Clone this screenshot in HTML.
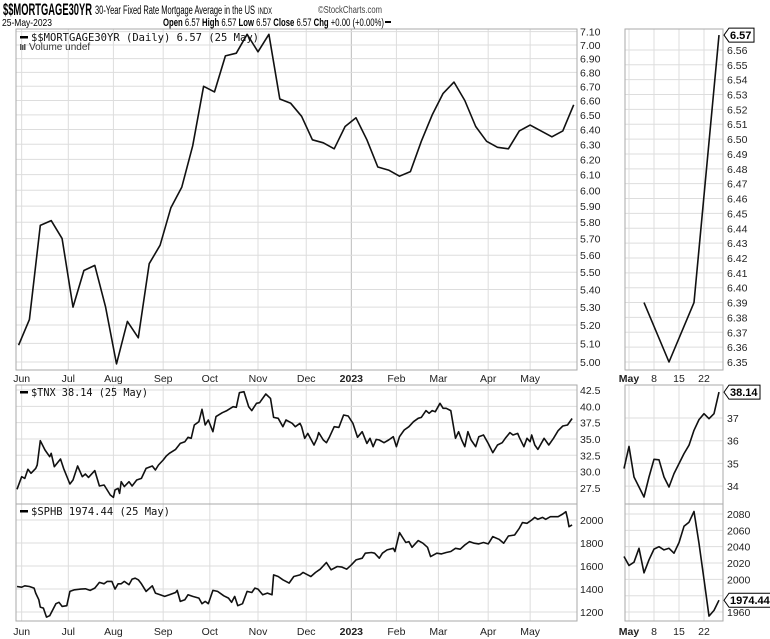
<!DOCTYPE html>
<html><head><meta charset="utf-8"><style>
html,body{margin:0;padding:0;background:#fff;}
svg{display:block;font-family:"Liberation Sans",sans-serif;}
.ax{font-size:10.5px;fill:#222;}
.lg{font-family:"DejaVu Sans Mono","Liberation Mono",monospace;font-size:11px;fill:#111;}
</style></head><body>
<svg id="c" width="770" height="639" viewBox="0 0 770 639">
<text x="3" y="15" font-size="17" font-weight="bold" textLength="89" lengthAdjust="spacingAndGlyphs">$$MORTGAGE30YR</text>
<text x="95" y="14" font-size="11.5" textLength="160" lengthAdjust="spacingAndGlyphs">30-Year Fixed Rate Mortgage Average in the US</text>
<text x="258" y="14" font-size="9" textLength="14" lengthAdjust="spacingAndGlyphs">INDX</text>
<text x="318" y="13" font-size="10.5" fill="#444" textLength="64" lengthAdjust="spacingAndGlyphs">©StockCharts.com</text>
<text x="2" y="26" font-size="10.5" textLength="50" lengthAdjust="spacingAndGlyphs">25-May-2023</text>
<text x="163" y="26" font-size="11" textLength="221" lengthAdjust="spacingAndGlyphs"><tspan font-weight="bold">Open</tspan> 6.57 <tspan font-weight="bold">High</tspan> 6.57 <tspan font-weight="bold">Low</tspan> 6.57 <tspan font-weight="bold">Close</tspan> 6.57 <tspan font-weight="bold">Chg</tspan> +0.00 (+0.00%)</text>
<rect x="385" y="21" width="6" height="2" fill="#000"/>
<g id="g"></g>
</svg>
<script>
// ===== data =====
const monthLabels=["Jun","Jul","Aug","Sep","Oct","Nov","Dec","2023","Feb","Mar","Apr","May"];
const monthDays=[3,33,62,94,124,155,186,215,244,271,303,330];
const mortWeekly=[5.09,5.23,5.78,5.81,5.70,5.30,5.51,5.54,5.30,4.99,5.22,5.13,5.55,5.66,5.89,6.02,6.29,6.70,6.66,6.92,6.94,7.08,6.95,7.08,6.61,6.58,6.49,6.33,6.31,6.27,6.42,6.48,6.33,6.15,6.13,6.09,6.12,6.32,6.50,6.65,6.73,6.60,6.42,6.32,6.28,6.27,6.39,6.43,6.39,6.35,6.39,6.57];
const mortTicks=[7.10,7.00,6.90,6.80,6.70,6.60,6.50,6.40,6.30,6.20,6.10,6.00,5.90,5.80,5.70,5.60,5.50,5.40,5.30,5.20,5.10,5.00];
const tnxDays=[0,3,5,7,9,12,13,15,18,21,22,24,28,30,34,36,39,42,44,46,50,53,56,60,62,63,65,66,67,69,72,74,77,80,83,87,89,91,94,96,98,102,105,108,110,112,114,117,119,121,123,126,128,132,135,139,141,143,146,149,151,154,156,160,163,165,168,171,173,177,179,182,183,185,187,191,193,194,197,199,201,204,207,210,213,216,219,222,225,227,229,231,233,236,239,242,244,246,249,252,255,258,260,263,265,267,269,272,274,276,279,282,284,286,288,290,292,295,297,300,303,306,309,312,314,317,319,322,323,326,328,330,331,333,335,339,342,345,348,351,354,357];
const tnxVals=[27.29,29.23,28.97,30.35,29.74,30.50,31.01,34.74,33.31,32.29,32.80,30.76,31.93,30.50,28.10,28.72,30.86,29.23,29.64,29.12,30.15,27.80,27.95,26.42,26.06,27.18,27.44,26.67,28.46,27.70,28.46,27.80,28.72,28.97,30.50,30.86,30.25,31.01,31.78,32.39,32.80,33.41,34.33,34.59,35.25,35.10,37.14,37.65,39.54,37.14,37.91,36.12,38.42,39.03,39.34,39.95,39.85,42.09,42.24,39.95,39.34,40.46,40.56,41.89,41.22,38.31,38.16,36.88,37.91,37.40,36.88,37.40,36.88,35.10,35.86,34.08,35.10,35.97,34.84,34.43,35.35,36.88,36.78,38.67,38.52,37.40,35.25,36.12,34.33,35.10,33.82,34.94,34.84,34.43,34.84,35.35,33.82,35.35,36.37,36.88,37.65,38.16,38.31,39.34,38.93,39.34,39.18,40.46,39.69,39.69,39.34,35.10,36.12,34.84,33.82,36.12,34.84,33.82,35.35,35.61,34.33,32.90,34.08,34.43,35.10,35.97,35.61,35.86,35.25,33.82,35.10,34.59,35.61,34.08,33.41,35.10,34.08,35.10,36.27,36.99,37.14,38.14];
const tnxTicks=[42.5,40.0,37.5,35.0,32.5,30.0,27.5];
const sphbDays=[0,3,5,8,11,12,14,15,17,19,21,23,25,27,29,32,34,37,41,44,47,50,53,56,58,61,63,65,67,69,72,74,76,78,80,83,87,89,92,95,98,102,103,105,108,110,113,117,119,121,123,126,129,133,136,138,140,142,145,148,151,153,155,158,161,164,165,168,171,175,178,182,184,187,189,192,195,199,202,206,209,212,215,218,222,224,228,230,233,235,238,242,243,246,250,252,254,258,261,264,266,270,273,276,279,282,285,288,291,294,297,300,303,306,310,313,316,320,323,325,328,331,333,335,338,340,343,348,351,353,354,355,357];
const sphbVals=[1422,1416,1428,1422,1408,1364,1307,1243,1234,1156,1168,1220,1272,1284,1249,1255,1379,1393,1399,1402,1388,1408,1457,1445,1466,1466,1399,1445,1445,1466,1437,1486,1494,1480,1445,1379,1428,1364,1350,1336,1350,1370,1388,1292,1307,1350,1336,1321,1272,1292,1272,1388,1379,1341,1321,1284,1336,1255,1272,1379,1370,1408,1399,1350,1364,1350,1523,1509,1480,1451,1509,1523,1544,1523,1509,1544,1572,1630,1567,1596,1590,1572,1610,1653,1668,1711,1717,1711,1668,1711,1740,1754,1726,1890,1804,1812,1763,1821,1798,1763,1682,1711,1705,1717,1726,1754,1746,1783,1812,1798,1792,1804,1792,1856,1832,1798,1861,1870,1928,1977,1971,2000,2023,2006,2023,2006,2029,2029,2052,2072,2014,1942,1957,1974.44];
const sphbTicks=[2000,1800,1600,1400,1200];
const miniLabels=["May","8","15","22"];
const miniTickDays=[0,5,10,15];
const miniMortDays=[3,8,13,18];
const miniMortVals=[6.39,6.35,6.39,6.57];
const miniMortTicks=[6.56,6.55,6.54,6.53,6.52,6.51,6.50,6.49,6.48,6.47,6.46,6.45,6.44,6.43,6.42,6.41,6.40,6.39,6.38,6.37,6.36,6.35];
const miniTnxDays=[-1,0,1,2,3,4,5,6,7,8,9,10,11,12,13,14,15,16,17,18];
const miniTnxVals=[34.77,35.75,34.40,33.96,33.52,34.40,35.18,35.16,34.40,33.96,34.55,34.99,35.43,35.80,36.46,36.93,37.19,36.97,37.19,38.14];
const miniTnxTicks=[37,36,35,34];
const miniSphbVals=[2028,2017,2021,2038,2008,2024,2037,2040,2036,2038,2032,2045,2065,2070,2083,2044,2000,1955,1962,1974.44];
const miniSphbTicks=[2080,2060,2040,2020,2000,1980,1960];

// ===== axes =====
const NS="http://www.w3.org/2000/svg";
const G=document.getElementById('g');
function mk(t,a,p){const e=document.createElementNS(NS,t);for(const k in a)e.setAttribute(k,a[k]);(p||G).appendChild(e);return e;}
const xMain=d=>17+d*1.555;
const xMini=d=>629+d*5;
const yMort=v=>362-942*Math.log(v/5);
const yTnx=v=>390+(42.5-v)*6.53;
const ySphb=v=>520+(2000-v)*0.115;
const yMiniMort=v=>362+(6.35-v)*1486;
const yMiniTnx=v=>418+(37-v)*22.7;
const yMiniSphb=v=>514+(2080-v)*0.817;

function panel(x0,x1,y0,y1,name){
  const r=mk('rect',{x:x0,y:y0,width:x1-x0,height:y1-y0,fill:'none',stroke:'#aaa','stroke-width':1});
  
  
}
function hgrid(x0,x1,ticks,yf,lx,fmt,name,skip){
  ticks.forEach(t=>{const y=yf(t);
    const l=mk('line',{x1:x0,x2:x1,y1:y,y2:y,stroke:'#ddd','stroke-width':1});
    
    
    if(skip&&skip(t))return;
    const tx=mk('text',{x:lx,y:y+4,class:'ax'});tx.textContent=fmt(t);
    
    
  });
}
function vgrid(days,xf,y0,y1,name){
  days.forEach((d,i)=>{const x=xf(d);
    const l=mk('line',{x1:x,x2:x,y1:y0,y2:y1,stroke:(name==='main'&&i===7)?'#bbb':'#ddd','stroke-width':1});
    
    
  });
}
function line(xs,ys,name){
  const d=xs.map((x,i)=>(i?'L':'M')+x.toFixed(1)+','+ys[i].toFixed(1)).join('');
  const p=mk('path',{d:d,fill:'none',stroke:'#111','stroke-width':1.6,'stroke-linejoin':'round'});
  
  
}
function xlabels(labels,days,xf,y,name,boldFirst){
  labels.forEach((t,i)=>{const tx=mk('text',{x:xf(days[i]),y:y,class:'ax','text-anchor':'middle'});
    if(t==='2023'||(boldFirst&&i===0)){tx.setAttribute('font-weight','bold');tx.setAttribute('font-size','11.5');}
    tx.textContent=t;
    
    
  });
}
function valBox(x,y,txt,w,name){
  const p=mk('path',{d:`M${x},${y} L${x+5},${y-7} L${x+5+w},${y-7} L${x+5+w},${y+7} L${x+5},${y+7} Z`,fill:'#fff',stroke:'#000','stroke-width':1});
  
  
  const t=mk('text',{x:x+6,y:y+4,'font-size':11,'font-weight':'bold'});t.textContent=txt;
  
  
}
function legend(y,txt,w,name){
  const r=mk('rect',{x:20,y:y-5,width:8,height:2.5,fill:'#000'});
  
  
  const t=mk('text',{x:31,y:y,class:'lg',textLength:w,lengthAdjust:'spacingAndGlyphs'});t.textContent=txt;
  
  
}

// main panels
const PX0=16,PX1=577;
[[29,370],[385,504],[504,621]].forEach(([a,b],k)=>vgrid(monthDays,xMain,a,b,'main'));
hgrid(PX0,PX1,mortTicks,yMort,580,v=>v.toFixed(2),'mortgage-axis');
hgrid(PX0,PX1,tnxTicks,yTnx,580,v=>v.toFixed(1),'tnx-axis');
hgrid(PX0,PX1,sphbTicks,ySphb,580,v=>String(v),'sphb-axis');
panel(PX0,PX1,29,370,'mortgage-panel');
panel(PX0,PX1,385,504,'tnx-panel');
panel(PX0,PX1,504,621,'sphb-panel');
line(mortWeekly.map((v,i)=>xMain(1+7*i)),mortWeekly.map(yMort),'mortgage-line');
line(tnxDays.map(xMain),tnxVals.map(yTnx),'tnx-line');
line(sphbDays.map(xMain),sphbVals.map(ySphb),'sphb-line');
xlabels(monthLabels,monthDays,xMain,382,'mortgage-x');
xlabels(monthLabels,monthDays,xMain,635,'sphb-x');
legend(41,'$$MORTGAGE30YR (Daily) 6.57 (25 May)',228,'mortgage-legend');
{const t=mk('text',{x:29,y:50,'font-size':10,fill:'#333'});t.textContent='Volume undef';


[0,2,4].forEach((o,i)=>{const r=mk('rect',{x:20+o,y:44+(i%2),width:1.5,height:6-(i%2),fill:'#555'});

});}
legend(396,'$TNX 38.14 (25 May)',117,'tnx-legend');
legend(515,'$SPHB 1974.44 (25 May)',139,'sphb-legend');

// mini panels
const MX0=625,MX1=723;
[[29,370],[385,504],[504,621]].forEach(([a,b])=>vgrid(miniTickDays,xMini,a,b,'mini'));
hgrid(MX0,MX1,miniMortTicks,yMiniMort,727,v=>v.toFixed(2),'mini-mortgage-axis');
hgrid(MX0,MX1,miniTnxTicks,yMiniTnx,727,v=>String(v),'mini-tnx-axis');
hgrid(MX0,MX1,miniSphbTicks,yMiniSphb,727,v=>String(v),'mini-sphb-axis',t=>t===1980);
panel(MX0,MX1,29,370,'mini-mortgage-panel');
panel(MX0,MX1,385,504,'mini-tnx-panel');
panel(MX0,MX1,504,621,'mini-sphb-panel');
line(miniMortDays.map(xMini),miniMortVals.map(yMiniMort),'mini-mortgage-line');
line(miniTnxDays.map(xMini),miniTnxVals.map(yMiniTnx),'mini-tnx-line');
line(miniTnxDays.map(xMini),miniSphbVals.map(yMiniSphb),'mini-sphb-line');
xlabels(miniLabels,miniTickDays,xMini,382,'mini-mortgage-x',true);
xlabels(miniLabels,miniTickDays,xMini,635,'mini-sphb-x',true);
valBox(724,yMiniMort(miniMortVals[3]),'6.57',25,'mini-mortgage-last-value');
valBox(724,yMiniTnx(miniTnxVals[19]),'38.14',31,'mini-tnx-last-value');
valBox(724,yMiniSphb(miniSphbVals[19]),'1974.44',42,'mini-sphb-last-value');
</script>
</body></html>
